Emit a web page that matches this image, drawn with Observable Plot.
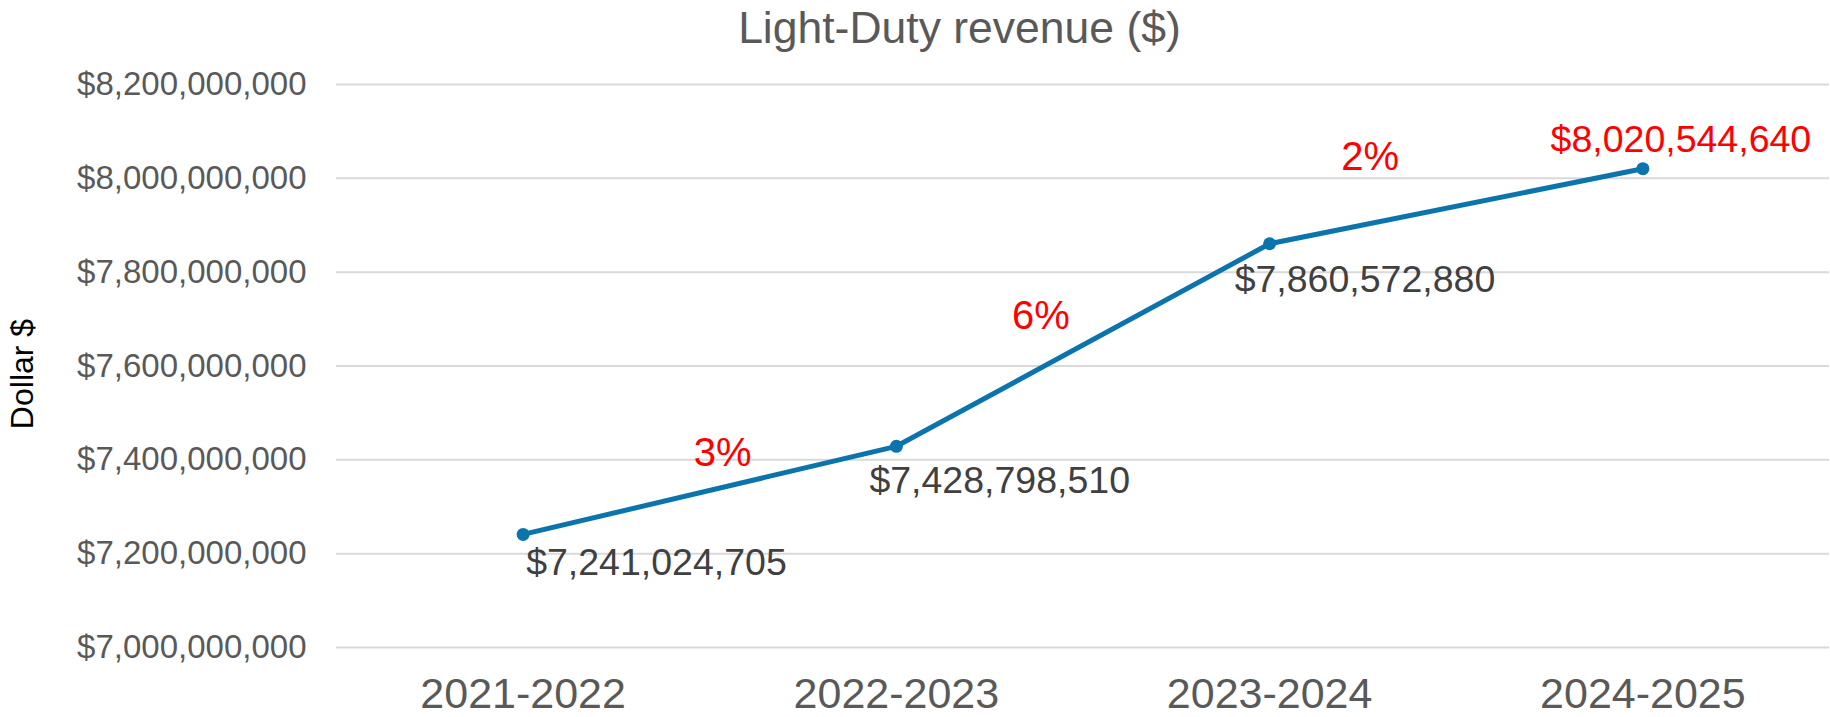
<!DOCTYPE html>
<html>
<head>
<meta charset="utf-8">
<script src="https://cdn.jsdelivr.net/npm/d3@7"></script>
<script src="https://cdn.jsdelivr.net/npm/@observablehq/plot@0.6"></script>
<style>
  html, body { margin: 0; padding: 0; background: #fff; }
  #chart { width: 1830px; height: 717px; }
</style>
</head>
<body>
<div id="chart"></div>
<script>
const categories = ["2021-2022", "2022-2023", "2023-2024", "2024-2025"];
const revenue = [7241024705, 7428798510, 7860572880, 8020544640];
const changeLabels = ["3%", "6%", "2%"];
const yTicks = [7000000000, 7200000000, 7400000000, 7600000000, 7800000000, 8000000000, 8200000000];
const title = "Light-Duty revenue ($)";
const yTitle = "Dollar $";

const points = categories.map((c, i) => ({i, category: c, revenue: revenue[i]}));
const changes = changeLabels.map((label, i) => ({
  x: i + 0.5,
  y: (revenue[i] + revenue[i + 1]) / 2,
  label
}));
const fmt = d => "$" + d3.format(",")(d);
const FONT = "'Liberation Sans', Arial, sans-serif";
const LINE = "#0b74ad";
const DARK = "#404040";
const RED = "#ff0000";

const valueLabel = (idx, opts) => Plot.text([points[idx]], {
  x: "i", y: "revenue", text: d => fmt(d.revenue),
  fontSize: 37.5, lineAnchor: "middle", ...opts
});
const changeLabel = (idx, opts) => Plot.text([changes[idx]], {
  x: "x", y: "y", text: "label", fill: RED, fontSize: 40,
  textAnchor: "middle", lineAnchor: "middle", ...opts
});

const chart = Plot.plot({
  width: 1830,
  height: 717,
  marginLeft: 336,
  marginRight: 1,
  marginTop: 84,
  marginBottom: 70,
  style: {fontFamily: FONT, color: "#595959", background: "#fff", overflow: "visible"},
  x: {type: "linear", domain: [-0.5, categories.length - 0.5]},
  y: {domain: [yTicks[0], yTicks[yTicks.length - 1]]},
  marks: [
    Plot.gridY(yTicks, {stroke: "#d9d9d9", strokeWidth: 2, strokeOpacity: 1}),
    Plot.axisY(yTicks, {tickSize: 0, tickPadding: 30, tickFormat: fmt, fontSize: 33, fill: "#595959", label: null}),
    Plot.axisX(categories.map((c, i) => i), {tickSize: 0, tickPadding: 29.5, tickFormat: i => categories[i], fontSize: 43, fill: "#595959", label: null}),
    Plot.line(points, {x: "i", y: "revenue", stroke: LINE, strokeWidth: 5, strokeLinejoin: "round"}),
    Plot.dot(points, {x: "i", y: "revenue", r: 6.5, fill: LINE, stroke: "none"}),
    valueLabel(0, {textAnchor: "start", dx: 3, dy: 29, fill: DARK}),
    valueLabel(1, {textAnchor: "start", dx: -27, dy: 35, fill: DARK}),
    valueLabel(2, {textAnchor: "start", dx: -35, dy: 36, fill: DARK}),
    valueLabel(3, {textAnchor: "middle", dx: 38, dy: -29, fill: RED}),
    changeLabel(0, {dx: 13, dy: -37}),
    changeLabel(1, {dx: -42, dy: -29}),
    changeLabel(2, {dx: -86, dy: -49}),
    Plot.text([title], {frameAnchor: "top", text: d => d, fontSize: 44.5, fill: "#595959", lineAnchor: "middle", dx: -123.5, dy: -56}),
    Plot.text([yTitle], {frameAnchor: "left", text: d => d, fontSize: 32, fill: "#000", rotate: -90, lineAnchor: "middle", textAnchor: "middle", dx: -314, dy: 8})
  ]
});
document.getElementById("chart").appendChild(chart);
</script>
</body>
</html>
